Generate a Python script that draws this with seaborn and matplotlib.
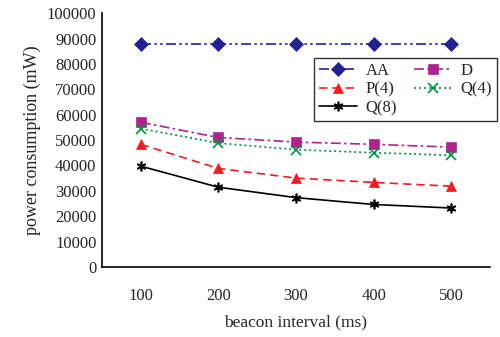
import matplotlib
matplotlib.use("Agg")
import matplotlib.pyplot as plt
import seaborn as sns
import pandas as pd
from matplotlib.ticker import FixedLocator

# data
intervals = ["100", "200", "300", "400", "500"]
aa = [87800, 87800, 87800, 87800, 87800]
d = [57000, 51000, 49200, 48300, 47200]
p4 = [48300, 38800, 35000, 33300, 31800]
q4 = [54500, 48800, 46200, 45000, 44000]
q8 = [39700, 31400, 27300, 24600, 23200]

series = [
    ("AA", aa, "#23238e", "D", (0, (6, 2, 1.5, 2, 1.5, 2))),
    ("D", d, "#b0238f", "s", (0, (6, 2, 1.5, 2))),
    ("P(4)", p4, "#ee1c24", "^", (0, (5, 3))),
    ("Q(4)", q4, "#00913f", "x", (0, (1.2, 1.8))),
    ("Q(8)", q8, "#000000", (6, 2, 0), "-"),
]

sns.set_style("white")
plt.rcParams["font.family"] = ["Liberation Serif", "DejaVu Serif"]

fig = plt.figure(figsize=(5, 3.37), dpi=100)
ax = fig.add_axes([0.204, 0.208, 0.776, 0.753])

for name, vals, color, marker, ls in series:
    df = pd.DataFrame({"x": range(len(intervals)), "y": vals})
    thin = marker == "x" or isinstance(marker, tuple)
    sns.lineplot(data=df, x="x", y="y", ax=ax, color=color, marker=marker,
                 linestyle=ls, linewidth=1.2, markersize=7,
                 markeredgecolor=color, markeredgewidth=1.2 if thin else 0.5,
                 label=name)

ax.set_xlim(-0.5, len(intervals) - 0.5)
ax.set_ylim(0, 100000)
ax.set_yticks(range(0, 100001, 10000))
ax.set_xticks(range(len(intervals)))
ax.set_xticklabels(intervals)
ax.xaxis.set_minor_locator(FixedLocator([0.5, 1.5, 2.5, 3.5]))
ax.tick_params(axis="x", which="major", length=0, pad=15, labelsize=12)
ax.tick_params(axis="x", which="minor", direction="in", length=5, width=1, color="black")
ax.tick_params(axis="y", direction="in", length=4, width=1, color="black", labelsize=12, pad=4)
ax.set_xlabel("beacon interval (ms)", fontsize=12.5, labelpad=8)
ax.set_ylabel("power consumption (mW)", fontsize=13)

for s in ["top", "right"]:
    ax.spines[s].set_visible(False)
for s in ["left", "bottom"]:
    ax.spines[s].set_color("black")
    ax.spines[s].set_linewidth(1.2)

# row-wise legend order like the reference
handles, labels = ax.get_legend_handles_labels()
order = [0, 2, 4, 1, 3]
leg = ax.legend([handles[i] for i in order], [labels[i] for i in order],
                loc="upper right", bbox_to_anchor=(0.994, 0.828),
                bbox_transform=fig.transFigure, borderaxespad=0, ncol=2, fontsize=12,
                frameon=True, fancybox=False, edgecolor="black", handlelength=2.3,
                columnspacing=1.0, handletextpad=0.5, borderpad=0.3, labelspacing=0.15)
leg.get_frame().set_linewidth(1.0)

fig.savefig("out.png", dpi=100)
